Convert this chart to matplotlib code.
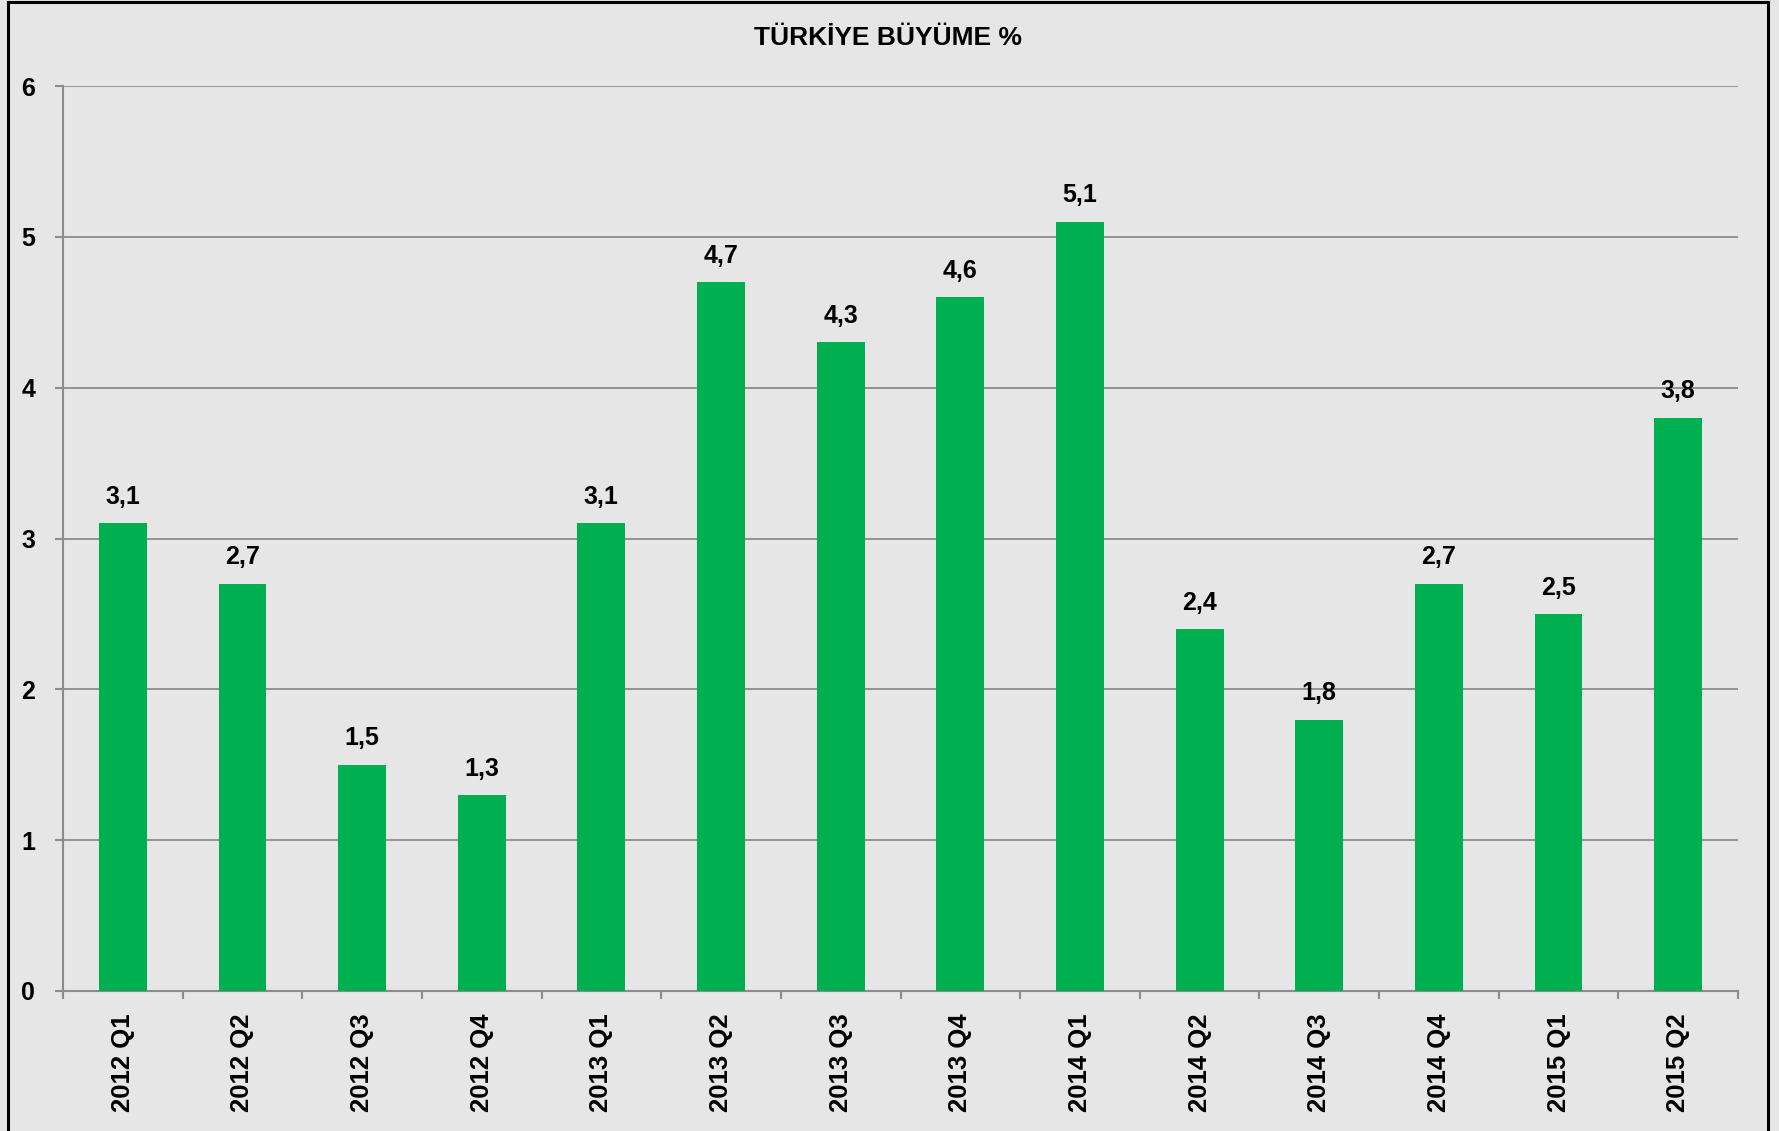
import numpy as np
import matplotlib.pyplot as plt
from matplotlib.lines import Line2D

quarters = ['2012 Q1', '2012 Q2', '2012 Q3', '2012 Q4',
            '2013 Q1', '2013 Q2', '2013 Q3', '2013 Q4',
            '2014 Q1', '2014 Q2', '2014 Q3', '2014 Q4',
            '2015 Q1', '2015 Q2']
growth = [3.1, 2.7, 1.5, 1.3, 3.1, 4.7, 4.3, 4.6, 5.1, 2.4, 1.8, 2.7, 2.5, 3.8]
yticks = [0, 1, 2, 3, 4, 5, 6]

plt.rcParams['font.family'] = ['Liberation Sans', 'DejaVu Sans']
plt.rcParams['font.weight'] = 'bold'

bg = '#E6E6E6'
grid_c = '#8C8C8C'

fig = plt.figure(figsize=(17.79, 11.31), dpi=100, facecolor=bg)
ax = fig.add_axes([63 / 1779, 1 - 991 / 1131, (1738 - 63) / 1779, (991 - 86) / 1131])
ax.set_facecolor(bg)

x = np.arange(len(quarters))
ax.bar(x, growth, width=0.4, color='#00B050', zorder=3)

for xi, v in zip(x, growth):
    ax.annotate(f'{v:.1f}'.replace('.', ','), (xi, v), xytext=(0, 19),
                textcoords='offset points', ha='center', va='center',
                fontsize=18, fontweight='bold')

ax.set_xlim(-0.5, len(quarters) - 0.5)
ax.set_ylim(0, 6)
ax.set_yticks(yticks)
ax.set_yticklabels([str(t) for t in yticks], fontsize=18, fontweight='bold')

# ticks at category boundaries, labels at centers
ax.set_xticks(np.arange(-0.5, len(quarters), 1))
ax.set_xticklabels([])
ax.set_xticks(x, minor=True)
ax.set_xticklabels(quarters, minor=True, rotation=90, fontsize=18.5, fontweight='bold')
ax.tick_params(axis='x', which='minor', length=0, pad=16)
ax.tick_params(axis='x', which='major', length=6, width=1.5, color=grid_c, direction='out')
ax.tick_params(axis='y', length=6, width=1.5, color=grid_c, direction='out', pad=14)

ax.yaxis.grid(True, color=grid_c, linewidth=1.3)
ax.set_axisbelow(True)
for s in ['top', 'right']:
    ax.spines[s].set_visible(False)
for s in ['left', 'bottom']:
    ax.spines[s].set_color(grid_c)
    ax.spines[s].set_linewidth(1.5)

fig.text(888 / 1779, 1 - 38 / 1131, 'TÜRKİYE BÜYÜME %', ha='center', va='center',
         fontsize=19, fontweight='bold')

# outer frame (left, top, right)
W, H = 1779, 1131
for xs, ys in [([8 / W, 8 / W], [0, 1 - 2 / H]),
               ([8 / W, 1768 / W], [1 - 2 / H, 1 - 2 / H]),
               ([1768 / W, 1768 / W], [0, 1 - 2 / H])]:
    fig.add_artist(Line2D(xs, ys, color='black', linewidth=2.2))

plt.savefig('out.png', dpi=100, facecolor=bg)
